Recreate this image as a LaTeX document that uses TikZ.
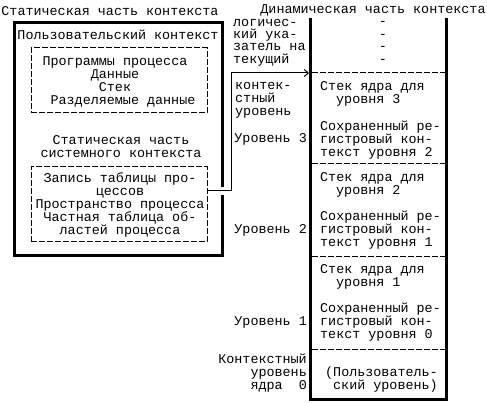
\documentclass[tikz,border=0pt]{standalone}
\usepackage{fontspec}
\newfontfamily\mono{Liberation Mono}
\usetikzlibrary{arrows.meta}
\tikzset{
  txt/.style={font=\mono\fontsize{13.4}{13}\selectfont, inner sep=0pt},
  heavy/.style={line width=3pt},
  dbox/.style={draw, line width=1pt, dash pattern=on 6pt off 2pt, minimum width=176pt, minimum height=65pt, inner sep=0pt},
  sepline/.style={line width=1pt, dash pattern=on 6pt off 2pt},
}
\begin{document}
\begin{tikzpicture}[x=1pt, y=-1pt]
 \useasboundingbox[fill=white] (0,0) rectangle (487,403);
 % static part
 \node[txt] at (110,11) (stitle) {Статическая часть контекста};
 \draw[heavy] (14,22.5) rectangle (222.5,256);
 \node[txt] at (118,35) (user) {Пользовательский контекст};
 \node[dbox] at (119,80.5) (ubox) {};
 \node[txt, align=center] at (115,81.5) (utext) {Программы процесса\\Данные\\Стек\\\hspace*{16pt}Разделяемые данные};
 \node[txt, align=center] at (121,146.5) (systitle) {Статическая часть\\системного контекста};
 \node[dbox, minimum height=75pt] at (119,204.5) (pbox) {};
 \node[txt, align=center] at (120,204.5) (ptext) {Запись таблицы про-\\цессов\\Пространство процесса\\Частная таблица об-\\ластей процесса};

 % dynamic part
 \node[txt] at (373,10) (dtitle) {Динамическая часть контекста};
 \draw[heavy] (310,18) -- (310,399) -- (446,399) -- (446,18);
 \draw[sepline] (311.5,73) -- (444.5,73);
 \draw[sepline] (311.5,164) -- (444.5,164);
 \draw[sepline] (311.5,257) -- (444.5,257);
 \draw[sepline] (311.5,349) -- (444.5,349);
 \node[txt, align=center, font=\mono\fontsize{13.4}{12.4}\selectfont] at (383,42.5) (dashes) {-\\-\\-\\-};
 \node[txt, align=left, anchor=west, font=\mono\fontsize{13.4}{12.4}\selectfont] at (233,42.5) (ptr) {логичес-\\кий ука-\\затель на\\текущий};
 \node[txt, align=left, anchor=west] at (235,100.5) (ctx) {контек-\\стный\\уровень};
 \node[txt, anchor=east] at (307,139) (lvl3) {Уровень 3};
 \node[txt, anchor=east] at (307,230) (lvl2) {Уровень 2};
 \node[txt, anchor=east] at (307,322) (lvl1) {Уровень 1};
 \node[txt, align=right, anchor=east] at (307,373.5) (lvl0) {Контекстный\\уровень\\ядра\ \ 0};
 \node[txt, align=left, anchor=west] at (320,94) (stack3) {Стек ядра для\\\hspace*{16pt}уровня 3};
 \node[txt, align=left, anchor=west] at (320,140) (regs2) {Сохраненный ре-\\гистровый кон-\\текст уровня 2};
 \node[txt, align=left, anchor=west] at (320,185) (stack2) {Стек ядра для\\\hspace*{16pt}уровня 2};
 \node[txt, align=left, anchor=west] at (320,230) (regs1) {Сохраненный ре-\\гистровый кон-\\текст уровня 1};
 \node[txt, align=left, anchor=west] at (320,276.5) (stack1) {Стек ядра для\\\hspace*{16pt}уровня 1};
 \node[txt, align=left, anchor=west] at (320,322.5) (regs0) {Сохраненный ре-\\гистровый кон-\\текст уровня 0};
 \node[txt, align=left, anchor=west] at (325,380) (user0) {(Пользователь-\\\hspace*{8pt}ский уровень)};

 \coordinate (ptrend) at (309,73);
 \fill[white] (219,187) rectangle (226,195);
 \draw[line width=1pt, -{Straight Barb[length=4pt,width=7pt]}] ([yshift=13.5pt]pbox.east) -- ++(24,0) |- (ptrend);
\end{tikzpicture}
\end{document}
